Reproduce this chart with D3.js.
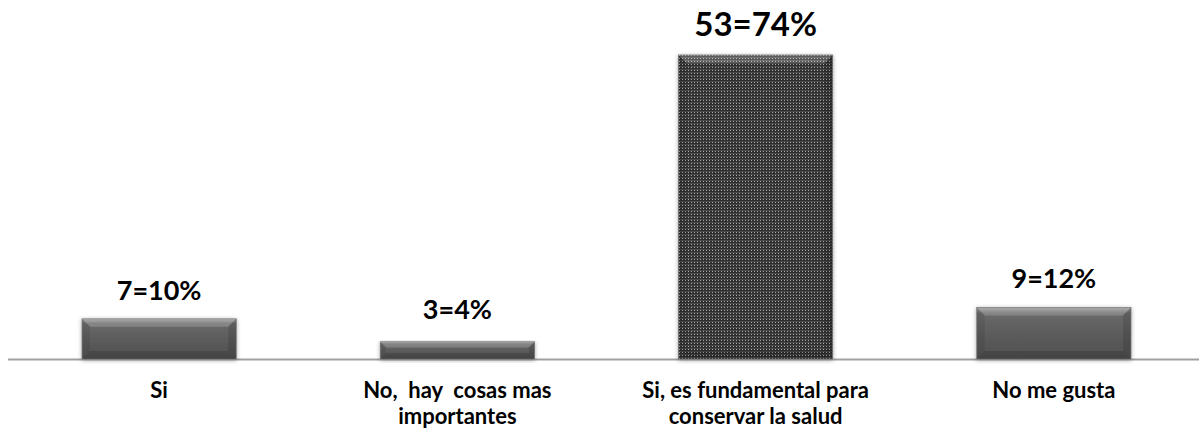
<!DOCTYPE html>
<html><head><meta charset="utf-8">
<script src="https://cdn.jsdelivr.net/npm/d3@7"></script>
<style>html,body{margin:0;padding:0;background:#fff;}svg{display:block;}</style>
</head><body>
<svg id="chart" width="1199" height="433"></svg>
<script>
const categories = [["Si"], ["No,  hay  cosas mas", "importantes"], ["Si, es fundamental para", "conservar la salud"], ["No me gusta"]];
const counts = [7, 3, 53, 9];
const percents = [10, 4, 74, 12];
const patterned = [false, false, true, false];

const W = 1199, H = 433;
const svg = d3.select("#chart");
const font = "Lato, 'Open Sans', sans-serif";

const x = d3.scaleBand().domain(d3.range(categories.length)).range([10, 1203]).paddingInner(0.483).paddingOuter(0.2415);
const y = d3.scaleLinear().domain([0, 53]).range([359, 55]);

const defs = svg.append("defs");
const g1 = defs.append("linearGradient").attr("id", "barGrad").attr("x1", 0).attr("y1", 0).attr("x2", 0).attr("y2", 1);
g1.append("stop").attr("offset", 0).attr("stop-color", "#9a9a9a");
g1.append("stop").attr("offset", 0.12).attr("stop-color", "#6a6a6a");
g1.append("stop").attr("offset", 0.5).attr("stop-color", "#5c5c5c");
g1.append("stop").attr("offset", 1).attr("stop-color", "#505050");

const pat = defs.append("pattern").attr("id", "dots").attr("patternUnits", "userSpaceOnUse").attr("width", 3).attr("height", 3);
pat.append("rect").attr("width", 3).attr("height", 3).attr("fill", "#2f2f2f");
pat.append("rect").attr("x", 0).attr("y", 0).attr("width", 3).attr("height", 1).attr("fill", "#4a4a4a");
pat.append("rect").attr("x", 1).attr("y", 1).attr("width", 1).attr("height", 1).attr("fill", "#a8a8a8");

const f = defs.append("filter").attr("id", "shadow").attr("x", "-10%").attr("y", "-10%").attr("width", "120%").attr("height", "130%");
f.append("feDropShadow").attr("dx", 0).attr("dy", 1).attr("stdDeviation", 2).attr("flood-color", "#000").attr("flood-opacity", 0.35);

// axis line
svg.append("line").attr("x1", 8).attr("x2", 1199).attr("y1", 359.5).attr("y2", 359.5)
  .attr("stroke", "#a0a0a0").attr("stroke-width", 2);

const bars = svg.append("g").selectAll("g").data(counts).join("g");
bars.each(function(d, i) {
  const g = d3.select(this);
  const x0 = x(i), w = x.bandwidth(), y0 = y(d), h = y(0) - y(d);
  g.append("rect").attr("x", x0).attr("y", y0).attr("width", w).attr("height", h)
    .attr("fill", patterned[i] ? "url(#dots)" : "url(#barGrad)").attr("filter", "url(#shadow)")
    .attr("stroke", "#777").attr("stroke-width", 0.8);
  const b = Math.min(8, h / 3);
  g.append("polygon").attr("points", [[x0, y0], [x0 + w, y0], [x0 + w - b, y0 + b], [x0 + b, y0 + b]].join(" "))
    .attr("fill", "#fff").attr("opacity", patterned[i] ? 0.22 : 0.18);
  g.append("polygon").attr("points", [[x0, y0], [x0 + b, y0 + b], [x0 + b, y0 + h - b], [x0, y0 + h]].join(" "))
    .attr("fill", "#000").attr("opacity", 0.08);
  g.append("polygon").attr("points", [[x0 + w, y0], [x0 + w - b, y0 + b], [x0 + w - b, y0 + h - b], [x0 + w, y0 + h]].join(" "))
    .attr("fill", "#000").attr("opacity", 0.12);
  g.append("polygon").attr("points", [[x0, y0 + h], [x0 + b, y0 + h - b], [x0 + w - b, y0 + h - b], [x0 + w, y0 + h]].join(" "))
    .attr("fill", "#000").attr("opacity", 0.15);
});

// value labels
svg.append("g").selectAll("text").data(counts).join("text")
  .attr("x", (d, i) => x(i) + x.bandwidth() / 2)
  .attr("y", (d, i) => y(d) - (i === 1 ? 23 : 19))
  .attr("text-anchor", "middle")
  .attr("font-family", font).attr("font-weight", "bold")
  .attr("font-size", (d, i) => i === 2 ? "33px" : "27px")
  .attr("fill", "#000")
  .text((d, i) => d + "=" + percents[i] + "%");

// category labels
const cl = svg.append("g").selectAll("text").data(categories).join("text")
  .attr("x", (d, i) => x(i) + x.bandwidth() / 2)
  .attr("y", 398)
  .attr("text-anchor", "middle")
  .attr("font-family", font).attr("font-weight", "bold").attr("font-size", "22px").attr("fill", "#000");
cl.each(function(d) {
  const t = d3.select(this);
  d.forEach((line, k) => {
    t.append("tspan").attr("x", t.attr("x")).attr("y", 398 + k * 26).attr("xml:space", "preserve").text(line);
  });
});
</script>
</body></html>
